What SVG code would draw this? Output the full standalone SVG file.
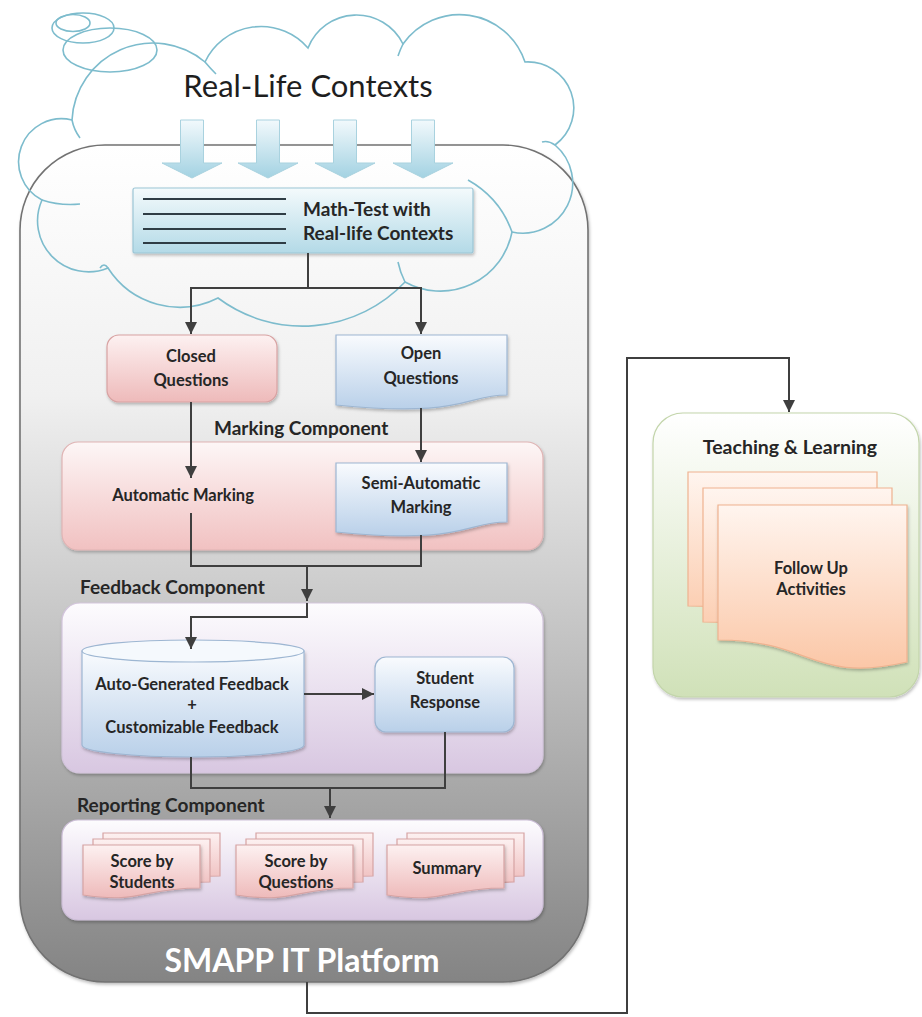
<svg xmlns="http://www.w3.org/2000/svg" width="922" height="1017" viewBox="0 0 922 1017">
<defs>
  <linearGradient id="gPlat" x1="0" y1="0" x2="0" y2="1">
    <stop offset="0" stop-color="#ffffff"/>
    <stop offset="0.3" stop-color="#f0f0f0"/>
    <stop offset="1" stop-color="#848484"/>
  </linearGradient>
  <linearGradient id="gArrow" x1="0" y1="0" x2="0" y2="1">
    <stop offset="0" stop-color="#f2f9fc"/>
    <stop offset="1" stop-color="#a3d2e2"/>
  </linearGradient>
  <linearGradient id="gMath" x1="0" y1="0" x2="0" y2="1">
    <stop offset="0" stop-color="#f4fafc"/>
    <stop offset="1" stop-color="#b3dae7"/>
  </linearGradient>
  <linearGradient id="gBlue" x1="0" y1="0" x2="0" y2="1">
    <stop offset="0" stop-color="#f9fbfe"/>
    <stop offset="1" stop-color="#b9d0e9"/>
  </linearGradient>
  <linearGradient id="gPink" x1="0" y1="0" x2="0" y2="1">
    <stop offset="0" stop-color="#fdf1f1"/>
    <stop offset="1" stop-color="#eebaba"/>
  </linearGradient>
  <linearGradient id="gMark" x1="0" y1="0" x2="0" y2="1">
    <stop offset="0" stop-color="#fdf6f6"/>
    <stop offset="1" stop-color="#f1c1c1"/>
  </linearGradient>
  <linearGradient id="gLav" x1="0" y1="0" x2="0" y2="1">
    <stop offset="0" stop-color="#fdfcfe"/>
    <stop offset="1" stop-color="#d8c7e1"/>
  </linearGradient>
  <linearGradient id="gGreen" x1="0" y1="0" x2="0" y2="1">
    <stop offset="0" stop-color="#ffffff"/>
    <stop offset="1" stop-color="#d0e1b8"/>
  </linearGradient>
  <linearGradient id="gPeach" x1="0" y1="0" x2="0" y2="1">
    <stop offset="0" stop-color="#fff5ef"/>
    <stop offset="1" stop-color="#fbc7a7"/>
  </linearGradient>
  <filter id="sh" x="-10%" y="-10%" width="120%" height="130%">
    <feDropShadow dx="1" dy="2" stdDeviation="1.5" flood-color="#000" flood-opacity="0.25"/>
  </filter>
  <marker id="ah" viewBox="0 0 12 12" refX="12" refY="6" markerWidth="12" markerHeight="12" orient="auto" markerUnits="userSpaceOnUse">
    <path d="M0,0 L12,6 L0,12 Z" fill="#3f3f3f"/>
  </marker>
</defs>
<style>
  .t { font-family: Lato, "Liberation Sans", sans-serif; font-weight: bold; fill: #262626; text-anchor: middle; }
  .lbl { font-size: 16.5px; }
  .comp { font-size: 19px; text-anchor: start; }
  .conn { fill: none; stroke: #3f3f3f; stroke-width: 2; }
  .cloud { fill: none; stroke: #7dbccd; stroke-width: 1.6; }
  .blue { fill: url(#gBlue); stroke: #9db6d2; stroke-width: 1.2; }
  .pinkp { fill: url(#gPink); stroke: #d6a3a3; stroke-width: 1.2; }
  .peach { fill: url(#gPeach); stroke: #efb28f; stroke-width: 1.2; }
</style>
<rect width="922" height="1017" fill="#ffffff"/>

<g id="platform">
  <rect x="20" y="145" width="568" height="837" rx="85" fill="url(#gPlat)" stroke="#727272" stroke-width="1.6" filter="url(#sh)"/>
  <text x="302" y="972" class="t" style="font-size:32px; fill:#ffffff">SMAPP IT Platform</text>
</g>

<g id="cloud">
  <path class="cloud" d="M72 120 A81 81 0 0 1 205 62 A62 62 0 0 1 308 48 A52 52 0 0 1 403 44 A69 69 0 0 1 525 62 A46 46 0 0 1 555 145 A50 50 0 0 1 512 232 A73 73 0 0 1 405 282 A141 141 0 0 1 218 298 A85 85 0 0 1 108 268 A51 51 0 0 1 42 200 A43 43 0 0 1 72 120 Z"/>
  <path class="cloud" d="M72 120 Q74 130 80 138"/>
  <path class="cloud" d="M205 62 Q210 68 216 74"/>
  <path class="cloud" d="M403 44 Q400 50 398 56"/>
  <path class="cloud" d="M555 145 Q548 140 542 142"/>
  <path class="cloud" d="M512 232 Q500 198 468 180"/>
  <path class="cloud" d="M405 282 Q400 272 398 262"/>
  <path class="cloud" d="M42 200 Q60 206 80 204"/>
  <path class="cloud" d="M108 268 Q104 262 100 268"/>
  <ellipse class="cloud" cx="73" cy="23" rx="17" ry="8.5"/>
  <ellipse class="cloud" cx="83" cy="28" rx="31" ry="15"/>
  <ellipse class="cloud" cx="110" cy="50" rx="47" ry="22"/>
  <text x="308" y="97" class="t" style="font-size:31px; font-weight:normal; fill:#1e1e1e">Real-Life Contexts</text>
</g>

<g id="context-arrows" fill="url(#gArrow)" stroke="#a9d2df" stroke-width="1">
  <path d="M180.5 120 H203.5 V163 H222 L192 178 L162 163 H180.5 Z"/>
  <path d="M256.5 120 H279.5 V163 H298 L268 178 L238 163 H256.5 Z"/>
  <path d="M333.5 120 H356.5 V163 H375 L345 178 L315 163 H333.5 Z"/>
  <path d="M411.5 120 H434.5 V163 H453 L423 178 L393 163 H411.5 Z"/>
</g>

<g id="math-test">
  <rect x="133" y="188" width="340" height="65" rx="2" fill="url(#gMath)" stroke="#9cc6d6" stroke-width="1.2" filter="url(#sh)"/>
  <g stroke="#2f3d45" stroke-width="2.2">
    <line x1="143" y1="199" x2="286" y2="199"/>
    <line x1="143" y1="214" x2="286" y2="214"/>
    <line x1="143" y1="229" x2="286" y2="229"/>
    <line x1="143" y1="243" x2="286" y2="243"/>
  </g>
  <text x="303" y="216" class="t" style="font-size:19px; text-anchor:start">Math-Test with</text>
  <text x="303" y="240" class="t" style="font-size:19px; text-anchor:start">Real-life Contexts</text>
</g>

<g id="closed-questions">
  <rect x="107" y="335" width="170" height="67" rx="12" fill="url(#gPink)" stroke="#d8a2a2" stroke-width="1.2" filter="url(#sh)"/>
  <text x="191" y="362" class="t lbl">Closed</text>
  <text x="191" y="386" class="t lbl">Questions</text>
</g>

<g id="open-questions">
  <path class="blue" filter="url(#sh)" d="M336 335 H507 V395 C464.5 395 464.5 418 336 405 Z"/>
  <text x="421" y="359" class="t lbl">Open</text>
  <text x="421" y="384" class="t lbl">Questions</text>
</g>

<g id="marking-component">
  <text x="214" y="435" class="t comp">Marking Component</text>
  <rect x="62" y="442" width="481" height="108" rx="16" fill="url(#gMark)" stroke="#e0b4b4" stroke-width="1.2" filter="url(#sh)"/>
  <text x="183" y="501" class="t lbl">Automatic Marking</text>
</g>

<g id="semi-automatic">
  <path class="blue" filter="url(#sh)" d="M336 463 H507 V522 C464.5 522 464.5 545 336 532 Z"/>
  <text x="421" y="489" class="t lbl">Semi-Automatic</text>
  <text x="421" y="513" class="t lbl">Marking</text>
</g>

<g id="feedback-component">
  <text x="80" y="594" class="t comp">Feedback Component</text>
  <rect x="62" y="603" width="481" height="170" rx="18" fill="url(#gLav)" stroke="#d3c5dc" stroke-width="1.2" filter="url(#sh)"/>
</g>

<g id="feedback-store">
  <path class="blue" filter="url(#sh)" d="M82 651 V745 A111 12 0 0 0 304 745 V651 Z"/>
  <ellipse cx="193" cy="651" rx="111" ry="11" fill="#f5f9fd" stroke="#9db6d2" stroke-width="1.2"/>
  <text x="192" y="690" class="t lbl">Auto-Generated Feedback</text>
  <text x="192" y="710" class="t lbl">+</text>
  <text x="192" y="733" class="t lbl">Customizable Feedback</text>
</g>

<g id="student-response">
  <rect x="375" y="657" width="139" height="75" rx="11" class="blue" filter="url(#sh)"/>
  <text x="445" y="684" class="t lbl">Student</text>
  <text x="445" y="708" class="t lbl">Response</text>
</g>

<g id="reporting-component">
  <text x="77" y="812" class="t comp">Reporting Component</text>
  <rect x="62" y="820" width="481" height="100" rx="16" fill="url(#gLav)" stroke="#cdbfd8" stroke-width="1.2" filter="url(#sh)"/>
</g>

<g id="score-by-students">
  <path class="pinkp" d="M103 833 H220 V876 C161.5 876 161.5 892 103 883 Z"/>
  <path class="pinkp" d="M93 839 H210 V882 C151.5 882 151.5 898 93 889 Z"/>
  <path class="pinkp" filter="url(#sh)" d="M83 845 H200 V888 C141.5 888 141.5 904 83 895 Z"/>
  <text x="142" y="867" class="t lbl">Score by</text>
  <text x="142" y="888" class="t lbl">Students</text>
</g>

<g id="score-by-questions">
  <path class="pinkp" d="M256 833 H373 V876 C314.5 876 314.5 892 256 883 Z"/>
  <path class="pinkp" d="M246 839 H363 V882 C304.5 882 304.5 898 246 889 Z"/>
  <path class="pinkp" filter="url(#sh)" d="M236 845 H353 V888 C294.5 888 294.5 904 236 895 Z"/>
  <text x="296" y="867" class="t lbl">Score by</text>
  <text x="296" y="888" class="t lbl">Questions</text>
</g>

<g id="summary">
  <path class="pinkp" d="M407 833 H524 V876 C465.5 876 465.5 892 407 883 Z"/>
  <path class="pinkp" d="M397 839 H514 V882 C455.5 882 455.5 898 397 889 Z"/>
  <path class="pinkp" filter="url(#sh)" d="M387 845 H504 V888 C445.5 888 445.5 904 387 895 Z"/>
  <text x="447" y="874" class="t lbl">Summary</text>
</g>

<g id="teaching-learning">
  <rect x="653" y="413" width="266" height="284" rx="30" fill="url(#gGreen)" stroke="#c3d5ab" stroke-width="1.2" filter="url(#sh)"/>
  <text x="790" y="454" class="t" style="font-size:19.5px">Teaching &amp; Learning</text>
</g>

<g id="follow-up-activities">
  <path class="peach" d="M688 472 H877 V628 C782.5 650 782.5 606 688 606 Z"/>
  <path class="peach" d="M703 488 H892 V644 C797.5 666 797.5 622 703 622 Z"/>
  <path class="peach" filter="url(#sh)" d="M718 505 H907 V662 C812.5 684 812.5 640 718 640 Z"/>
  <text x="811" y="574" class="t lbl">Follow Up</text>
  <text x="811" y="595" class="t lbl">Activities</text>
</g>

<g id="connectors">
  <path class="conn" marker-end="url(#ah)" d="M308 253 V288 H191 V334"/>
  <path class="conn" marker-end="url(#ah)" d="M308 288 H421 V334"/>
  <path class="conn" marker-end="url(#ah)" d="M191 402 V478"/>
  <path class="conn" marker-end="url(#ah)" d="M421 408 V462"/>
  <path class="conn" d="M191 513 V566 H421 V535"/>
  <path class="conn" marker-end="url(#ah)" d="M307 566 V601"/>
  <path class="conn" marker-end="url(#ah)" d="M307 603 V617 H191 V649"/>
  <path class="conn" marker-end="url(#ah)" d="M304 694 H374"/>
  <path class="conn" d="M191 757 V788 H445 V732"/>
  <path class="conn" marker-end="url(#ah)" d="M330 788 V818"/>
  <path class="conn" marker-end="url(#ah)" d="M307 982 V1013 H627 V358 H789 V412"/>
</g>
</svg>
